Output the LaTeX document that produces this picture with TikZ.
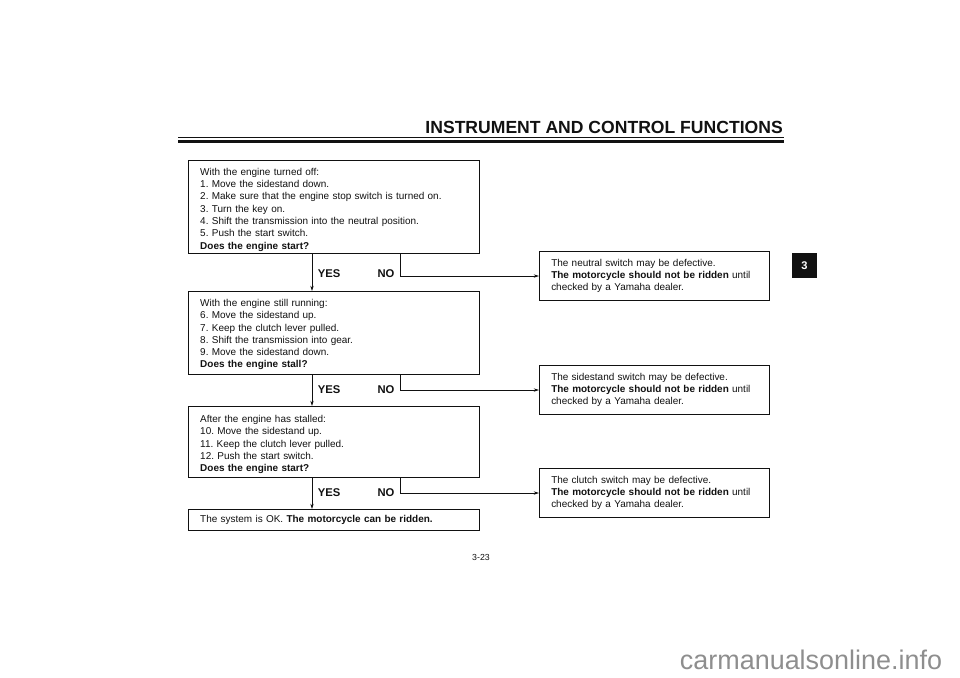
\documentclass[tikz,border=0pt]{standalone}
\usepackage{fontspec}
\setmainfont{Liberation Sans}
\usetikzlibrary{arrows.meta}
\frenchspacing
\definecolor{ink}{HTML}{111111}
\definecolor{wm}{HTML}{8E8E8E}
\tikzset{qbox/.style={draw=ink,text=ink,line width=.9pt,anchor=north west,inner xsep=10pt,
    inner ysep=0pt,text width=228.7pt,minimum height=#1,align=left,
    font=\fontsize{8.5}{10.5}\selectfont},
  drop/.style={execute at begin node={\rule{0pt}{#1}}},
  rbox/.style={qbox=41.8pt,text width=176.3pt},
  answer/.style={text=ink,font=\fontsize{9.6}{11}\selectfont\bfseries,inner sep=0pt},
  wire/.style={draw=ink,line width=.6pt},
  tip/.style={-{Stealth[length=4.5pt,width=2.8pt]}}}
\newcommand{\yesno}[4]{%
\draw[wire,tip] (312,0 |- #1.south) -- (312,0 |- #2.north);
\node[answer] (yes#1) at (329,#4) {YES};
\node[answer] (no#1) at (386,#4) {NO};
\draw[wire,tip] (400,0 |- #1.south) |- (#3.west);}

\begin{document}
\begin{tikzpicture}[x=0.03cm,y=-0.03cm]
\useasboundingbox (0,0) rectangle (960,678);
% page head
\node[anchor=base east,inner sep=0pt,text=ink,font=\fontsize{15}{17}\selectfont\bfseries]
  (head) at (783,134) {INSTRUMENT AND CONTROL FUNCTIONS};
\draw[ink,line width=.8pt] (178,137.8) -- (784,137.8);
\draw[ink,line width=2.2pt] (178,141.4) -- (784,141.4);
% chapter tab
\node[fill=ink,text=white,minimum size=21.3pt,inner sep=0pt,font=\fontsize{9.5}{11}\selectfont\bfseries]
  (tab) at (804.5,265.5) {3};
% checks
\node[qbox=79.4pt,drop=10.6pt] (q1) at (188,160) {With the engine turned off:\\
  1. Move the sidestand down.\\
  2. Make sure that the engine stop switch is turned on.\\
  3. Turn the key on.\\
  4. Shift the transmission into the neutral position.\\
  5. Push the start switch.\\
  \textbf{Does the engine start?}};
\node[qbox=70.8pt,drop=9pt] (q2) at (188,291) {With the engine still running:\\
  6. Move the sidestand up.\\
  7. Keep the clutch lever pulled.\\
  8. Shift the transmission into gear.\\
  9. Move the sidestand down.\\
  \textbf{Does the engine stall?}};
\node[qbox=60.6pt,drop=10.6pt] (q3) at (188,406) {After the engine has stalled:\\
  10. Move the sidestand up.\\
  11. Keep the clutch lever pulled.\\
  12. Push the start switch.\\
  \textbf{Does the engine start?}};
\node[qbox=17.9pt] (ok) at (188,509) {The system is OK. \textbf{The motorcycle can be ridden.}};
% faults
\node[rbox] (r1) at (539,251) {The neutral switch may be defective.\\
  \textbf{The motorcycle should not be ridden} until\\ checked by a Yamaha dealer.};
\node[rbox] (r2) at (539,365) {The sidestand switch may be defective.\\
  \textbf{The motorcycle should not be ridden} until\\ checked by a Yamaha dealer.};
\node[rbox] (r3) at (539,468) {The clutch switch may be defective.\\
  \textbf{The motorcycle should not be ridden} until\\ checked by a Yamaha dealer.};
\yesno{q1}{q2}{r1}{274}
\yesno{q2}{q3}{r2}{390}
\yesno{q3}{ok}{r3}{493}
% foot
\node[text=ink,inner sep=0pt,font=\fontsize{7.5}{9}\selectfont] (page) at (481,557) {3-23};
\node[text=wm,inner sep=0pt,font=\fontsize{23}{26}\selectfont] (site) at (811,660) {carmanualsonline.info};
\end{tikzpicture}
\end{document}
